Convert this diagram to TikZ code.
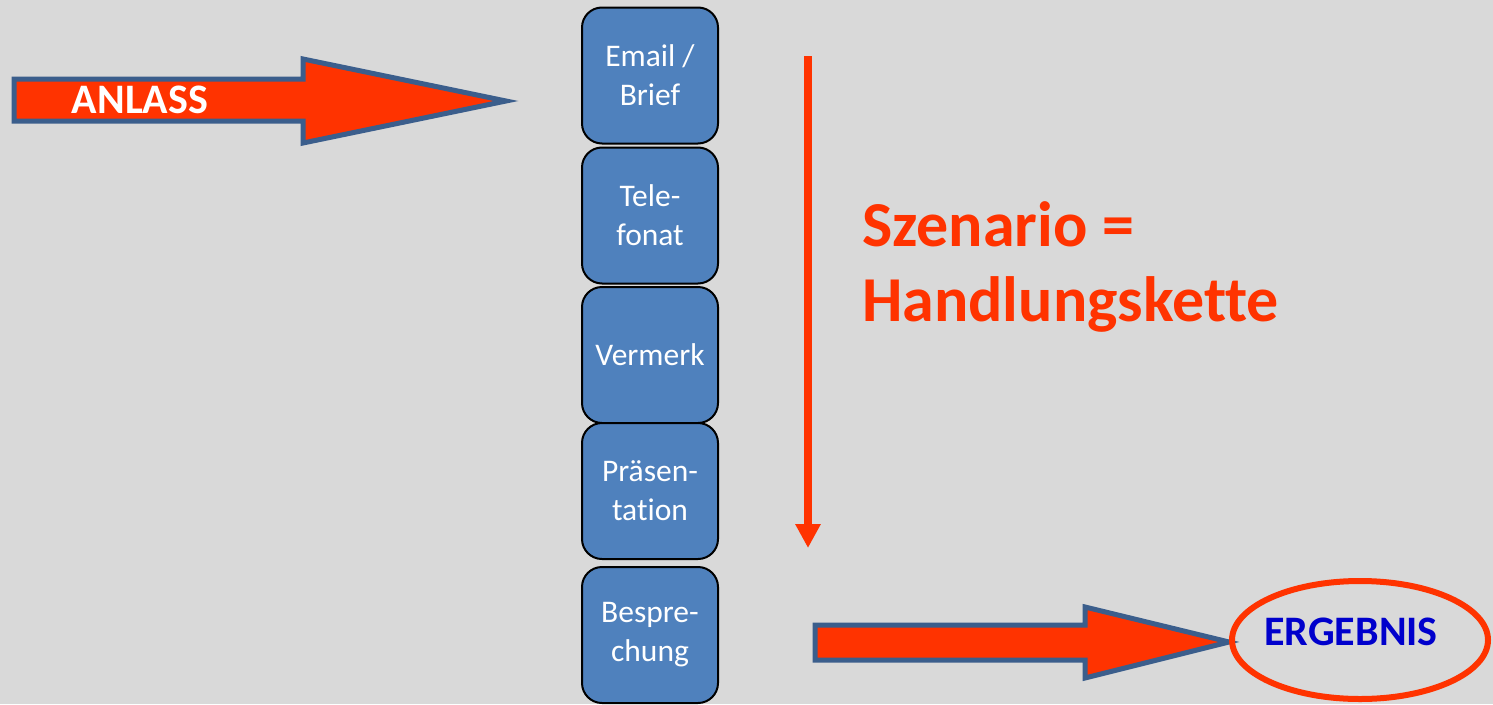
\documentclass[tikz,border=0pt]{standalone}
\usepackage{fontspec}
\setmainfont[Ligatures={NoCommon,NoContextual}]{Carlito}
\usetikzlibrary{arrows.meta,shapes.geometric}
\definecolor{bg}{HTML}{D9D9D9}
\definecolor{boxblue}{HTML}{4F81BD}
\definecolor{arrred}{HTML}{FF3300}
\definecolor{arredge}{HTML}{3B5E8C}
\definecolor{textblue}{HTML}{0000CC}
\tikzset{
  stepbox/.style={draw=black, line width=2pt, fill=boxblue, rounded corners=20pt,
    minimum width=136pt, minimum height=136pt, text=white, align=center,
    font=\fontsize{31.5pt}{39pt}\selectfont, inner sep=0pt},
  blockarrow/.style={draw=arredge, line width=5pt, fill=arrred, line join=miter},
  bigbold/.style={font=\fontsize{42pt}{50pt}\selectfont\bfseries, inner sep=0pt},
}
\begin{document}
\begin{tikzpicture}[x=1pt,y=-1pt]
\useasboundingbox (0,0) rectangle (1493,704);
\fill[bg] (0,0) rectangle (1493,704);
% ANLASS arrow
\draw[blockarrow] (14,79) -- (303,79) -- (303,59) -- (506,101) -- (303,143) -- (303,121) -- (14,121) -- cycle;
\node[bigbold, text=white] (anlass) at (140,100) {ANLASS};
% boxes
\node[stepbox] (b1) at (650,75.5) {Email /\\Brief};
\node[stepbox] (b2) at (650,215.5) {Tele-\\fonat};
\node[stepbox] (b3) at (650,355) {Vermerk};
\node[stepbox] (b4) at (650,491) {Präsen-\\tation};
\node[stepbox] (b5) at (650,635) {Bespre-\\chung};
% vertical arrow
\coordinate (vs) at (808,56);
\coordinate (ve) at (808,548);
\draw[arrred, line width=8pt, -{Triangle[width=24pt,length=24pt]}] (vs) -- (ve);
% title
\node[font=\fontsize{64pt}{75pt}\selectfont\bfseries, text=arrred, align=left, anchor=north west, inner sep=0pt] (title) at (862,201) {Szenario =\\Handlungskette};
% bottom arrow
\draw[blockarrow] (815,625) -- (1085,625) -- (1085,607) -- (1229,642) -- (1085,678) -- (1085,660) -- (815,660) -- cycle;
% ergebnis
\node[draw=arrred, line width=6pt, ellipse, minimum width=256pt, minimum height=118pt] (erg) at (1360,640) {};
\node[bigbold, text=textblue] (ergtext) at (1351,632) {ERGEBNIS};
\end{tikzpicture}
\end{document}
